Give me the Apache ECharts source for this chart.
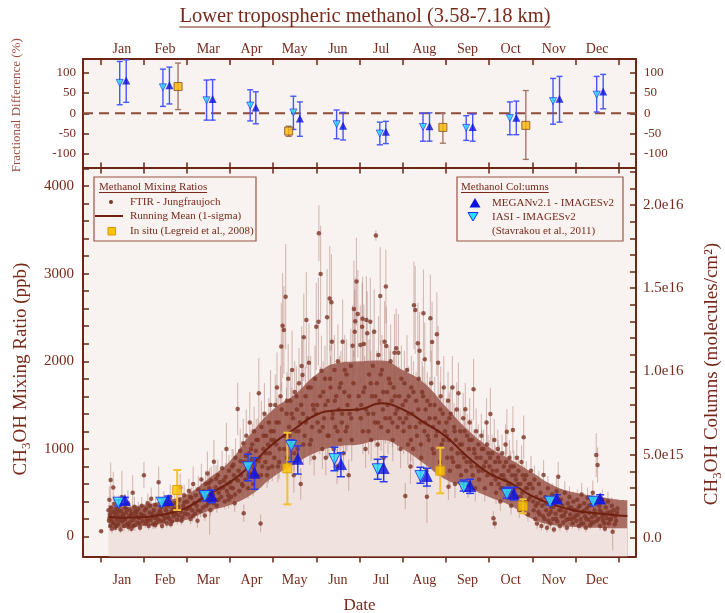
<!DOCTYPE html>
<html><head><meta charset="utf-8">
<script src="https://cdn.jsdelivr.net/npm/echarts@6/dist/echarts.min.js"></script>
<style>html,body{margin:0;padding:0;background:#fff}#c{width:725px;height:613px}</style>
</head><body><div id="c"></div>
<script>
// ---------- axis ticks / labels ----------
const monthNames = ['Jan','Feb','Mar','Apr','May','Jun','Jul','Aug','Sep','Oct','Nov','Dec'];
const monthTicks = [0,1,2,3,4,5,6,7,8,9,10,11,12];
const monthLabelPos = [0.5,1.5,2.5,3.5,4.5,5.5,6.5,7.5,8.5,9.5,10.5,11.5];
const fracTicks = [-100,-50,0,50,100];
const ppbTicks = [0,1000,2000,3000,4000];
const ppbMinorTicks = [0,200,400,600,800,1000,1200,1400,1600,1800,2000,2200,2400,2600,2800,3000,3200,3400,3600,3800,4000,4200];
const colTicks = [0,5e15,1e16,1.5e16,2e16];
const colTickLabels = ['0.0','5.0e15','1.0e16','1.5e16','2.0e16'];
const colMinorTicks = [0,1e15,2e15,3e15,4e15,5e15,6e15,7e15,8e15,9e15,1e16,1.1e16,1.2e16,1.3e16,1.4e16,1.5e16,1.6e16,1.7e16,1.8e16,1.9e16,2e16,2.1e16,2.2e16];

// ---------- FTIR Jungfraujoch: [month, ppb, error] ----------
const ftirJan = [[0.02,60,20],[0.19,300,60],[0.2,180,80],[0.21,420,150],[0.22,250,50],[0.23,120,60],[0.24,645,200],[0.25,330,90],[0.26,200,40],[0.27,90,50],[0.28,280,70],[0.3,560,180],[0.31,150,60],[0.32,370,100],[0.34,230,50],[0.35,100,40],[0.36,310,80],[0.38,190,60],[0.4,260,90],[0.41,140,50],[0.43,350,120],[0.45,220,60],[0.47,80,40],[0.48,290,70],[0.5,450,300],[0.51,170,50],[0.53,240,80],[0.55,120,60],[0.57,330,90],[0.58,200,50],[0.6,270,100],[0.62,150,40],[0.64,380,150],[0.65,110,50],[0.67,230,60],[0.69,300,80],[0.7,170,70],[0.72,90,40],[0.74,260,90],[0.75,500,200],[0.77,190,50],[0.79,340,110],[0.8,130,60],[0.82,240,70],[0.84,280,80],[0.86,160,50],[0.88,310,90],[0.9,210,60],[0.92,100,40],[0.94,260,70],[0.96,350,100],[0.98,180,60],
  [0.21,210,40],[0.29,160,50],[0.33,270,60],[0.37,120,40],[0.42,300,70],[0.46,180,50],[0.52,260,60],[0.56,200,50],[0.61,310,70],[0.66,140,40],[0.71,250,60],[0.76,120,50],[0.81,290,70],[0.87,220,50],[0.91,150,40],[0.97,240,60]];
const ftirFeb = [[1.01,700,150],[1.02,240,60],[1.04,150,50],[1.06,320,90],[1.08,200,60],[1.1,380,110],[1.12,120,40],[1.14,270,80],[1.16,190,50],[1.18,430,130],[1.2,230,70],[1.22,140,50],[1.24,300,90],[1.26,210,60],[1.28,360,100],[1.3,160,50],[1.32,250,80],[1.35,620,180],[1.37,290,70],[1.39,180,60],[1.41,330,90],[1.43,120,40],[1.45,240,70],[1.47,400,120],[1.5,210,60],[1.52,300,80],[1.54,150,50],[1.56,260,70],[1.58,350,100],[1.6,200,60],[1.62,450,150],[1.64,280,80],[1.66,170,50],[1.68,320,90],[1.7,230,70],[1.72,380,100],[1.75,260,60],[1.78,190,50],[1.8,340,90],[1.82,420,130],[1.85,560,160],[1.87,280,80],[1.9,220,60],[1.92,350,100],[1.94,470,120],[1.96,260,70],[1.98,310,90],
  [1.03,300,70],[1.09,170,50],[1.15,350,80],[1.21,260,60],[1.27,130,40],[1.33,200,50],[1.4,270,60],[1.46,180,50],[1.51,350,90],[1.57,220,60],[1.63,140,40],[1.69,260,70],[1.74,310,80],[1.81,240,60],[1.88,180,50],[1.95,390,90]];
const ftirMar = [[2.01,400,100],[2.03,250,60],[2.05,520,140],[2.07,330,80],[2.09,200,60],[2.11,440,120],[2.13,300,70],[2.15,600,200],[2.17,380,90],[2.19,260,60],[2.21,470,100],[2.23,350,80],[2.25,180,80],[2.27,540,150],[2.3,410,90],[2.32,290,70],[2.34,650,180],[2.36,460,110],[2.38,330,80],[2.4,520,120],[2.42,240,60],[2.44,600,150],[2.46,430,90],[2.48,720,250],[2.5,380,80],[2.52,550,120],[2.53,400,380],[2.55,300,70],[2.57,640,160],[2.6,480,100],[2.63,854,250],[2.65,420,90],[2.67,560,130],[2.7,350,80],[2.72,700,180],[2.74,500,110],[2.77,620,140],[2.8,450,100],[2.82,780,200],[2.85,560,120],[2.88,400,90],[2.9,680,160],[2.92,999,300],[2.94,600,130],[2.96,470,100],[2.98,750,180],
  [2.02,320,80],[2.08,450,100],[2.14,230,60],[2.2,380,90],[2.26,300,70],[2.33,500,110],[2.39,420,90],[2.45,350,80],[2.51,610,140],[2.56,470,100],[2.62,380,90],[2.68,660,150],[2.73,420,90],[2.79,550,120],[2.86,640,140],[2.93,520,110],[2.97,420,100]];
const ftirApr = [[3.01,620,150],[3.03,450,100],[3.05,800,200],[3.07,550,120],[3.09,700,160],[3.11,380,100],[3.13,900,220],[3.15,650,140],[3.18,1455,300],[3.2,750,160],[3.22,520,120],[3.24,980,250],[3.26,700,150],[3.28,600,130],[3.31,1064,280],[3.32,265,100],[3.34,850,180],[3.36,650,140],[3.38,1150,300],[3.4,780,160],[3.42,550,120],[3.44,950,200],[3.46,1300,350],[3.48,720,150],[3.5,880,180],[3.52,1050,240],[3.54,600,140],[3.56,1200,280],[3.58,820,170],[3.6,980,200],[3.62,700,150],[3.65,1100,250],[3.67,1635,400],[3.69,900,180],[3.71,150,100],[3.73,1250,300],[3.75,800,160],[3.77,1000,220],[3.8,1400,350],[3.82,850,180],[3.84,1150,250],[3.86,700,150],[3.88,1050,200],[3.9,1300,280],[3.92,950,190],[3.94,1500,400],[3.96,1100,230],[3.98,800,170],
  [3.02,560,130],[3.08,820,180],[3.12,480,110],[3.19,640,140],[3.25,860,190],[3.3,580,130],[3.37,920,200],[3.43,700,150],[3.49,1000,220],[3.55,780,170],[3.61,1100,240],[3.66,860,190],[3.72,700,150],[3.78,1150,250],[3.83,950,210],[3.89,780,170],[3.95,1200,260]];
const ftirMay = [[4.01,1200,250],[4.03,900,200],[4.05,1500,350],[4.07,1050,220],[4.09,1700,400],[4.11,800,180],[4.13,1300,280],[4.15,1000,220],[4.17,1600,350],[4.19,2167,500],[4.22,2406,600],[4.25,2357,500],[4.27,1150,250],[4.29,2737,600],[4.31,1400,300],[4.33,900,200],[4.35,1800,400],[4.37,1250,260],[4.4,1550,330],[4.42,1050,230],[4.44,1900,450],[4.46,1350,280],[4.48,700,200],[4.5,1650,350],[4.52,1200,260],[4.55,1450,300],[4.57,1000,220],[4.6,1750,400],[4.62,1300,270],[4.64,600,180],[4.66,1946,450],[4.68,1843,400],[4.69,1400,300],[4.71,2274,500],[4.73,1150,250],[4.75,1600,340],[4.77,2471,550],[4.8,1350,280],[4.83,1984,450],[4.85,1050,230],[4.87,1700,360],[4.9,1250,260],[4.92,1500,320],[4.95,900,200],[4.97,1800,380],[4.99,1400,300],
  [4.02,1100,240],[4.08,1300,280],[4.14,850,190],[4.2,1450,310],[4.26,1000,220],[4.32,1550,330],[4.38,1150,250],[4.43,1400,300],[4.49,950,210],[4.54,1600,340],[4.59,1200,260],[4.65,1500,320],[4.7,1050,230],[4.76,1300,280],[4.81,1700,360],[4.88,1100,240],[4.94,1450,310]];
const ftirJun = [[5.0,2395,500],[5.02,1500,320],[5.05,2452,500],[5.06,3461,320],[5.08,1200,260],[5.1,2997,550],[5.12,1893,400],[5.14,1000,230],[5.16,1650,350],[5.18,1350,280],[5.2,1800,380],[5.22,900,200],[5.25,2502,550],[5.27,1550,330],[5.29,1150,250],[5.31,2715,600],[5.33,1700,360],[5.35,2673,550],[5.36,2224,450],[5.38,1400,300],[5.4,1000,220],[5.42,1900,400],[5.44,1250,270],[5.46,1600,340],[5.48,800,200],[5.5,2000,420],[5.52,1450,300],[5.55,1100,240],[5.57,1750,370],[5.59,1300,280],[5.61,2224,480],[5.63,950,210],[5.65,1650,350],[5.68,1200,260],[5.7,1850,400],[5.72,1500,320],[5.75,700,180],[5.77,1400,300],[5.8,1950,420],[5.82,1100,240],[5.84,2178,460],[5.87,2597,550],[5.89,2338,480],[5.9,2456,500],[5.93,2909,500],[5.96,2540,500],[5.98,1600,340],
  [5.03,1300,280],[5.09,1600,340],[5.15,1250,270],[5.21,1500,320],[5.26,1150,250],[5.32,1800,380],[5.37,1350,290],[5.43,1550,330],[5.49,1200,260],[5.54,1700,360],[5.6,1400,300],[5.66,1900,400],[5.71,1250,270],[5.76,1600,340],[5.81,1350,290],[5.86,1750,370],[5.94,1450,310]];
const ftirJul = [[6.02,2186,450],[6.04,1500,320],[6.06,2395,500],[6.07,2486,480],[6.08,1200,260],[6.1,2198,450],[6.12,1700,360],[6.14,1000,220],[6.16,2471,500],[6.18,2320,480],[6.2,1400,300],[6.22,1850,400],[6.25,2452,500],[6.27,1100,240],[6.29,1600,340],[6.31,1950,420],[6.34,2338,480],[6.36,1300,280],[6.38,3434,60],[6.4,1750,370],[6.42,1050,230],[6.44,2072,440],[6.46,1550,330],[6.48,2745,560],[6.5,1250,270],[6.52,1900,400],[6.54,1450,310],[6.56,900,200],[6.58,2224,460],[6.61,2852,420],[6.62,2175,450],[6.64,1650,350],[6.66,1200,260],[6.68,1800,380],[6.7,1350,290],[6.72,2000,420],[6.75,1550,330],[6.77,1100,240],[6.79,1700,360],[6.81,2098,440],[6.83,1400,300],[6.85,2148,450],[6.88,1250,270],[6.9,2098,440],[6.92,1600,340],[6.95,1000,220],[6.97,1800,380],
  [6.03,1350,290],[6.09,1650,350],[6.15,1450,310],[6.21,1200,260],[6.26,1750,370],[6.32,1400,300],[6.37,1600,340],[6.43,1300,280],[6.49,1850,390],[6.55,1650,350],[6.6,1350,290],[6.65,1500,320],[6.71,1750,370],[6.76,1300,280],[6.82,1600,340],[6.87,1450,310],[6.93,1350,290]];
const ftirAug = [[7.0,1500,320],[7.02,1200,260],[7.04,1750,370],[7.06,462,150],[7.08,1350,290],[7.1,1900,400],[7.12,1050,230],[7.14,1600,340],[7.16,1250,270],[7.18,800,200],[7.2,1700,360],[7.22,1400,300],[7.24,1000,220],[7.26,2639,500],[7.29,2586,500],[7.31,1550,330],[7.33,1150,250],[7.35,2205,460],[7.37,1800,380],[7.39,2121,440],[7.41,1300,280],[7.43,900,200],[7.45,1650,350],[7.48,2548,500],[7.5,1200,260],[7.51,2023,420],[7.53,1450,310],[7.55,750,200],[7.56,454,300],[7.57,1550,330],[7.6,1100,240],[7.62,1350,290],[7.64,2491,500],[7.66,1750,370],[7.68,2220,460],[7.7,1250,270],[7.72,950,210],[7.74,1500,320],[7.77,1150,250],[7.79,2308,480],[7.82,1984,420],[7.84,1300,280],[7.86,850,200],[7.88,1600,340],[7.9,1050,230],[7.93,1400,300],[7.95,1700,360],[7.98,1200,260],
  [7.01,1300,280],[7.07,1550,330],[7.13,1400,300],[7.19,1100,240],[7.25,1650,350],[7.3,1250,270],[7.36,1450,310],[7.42,1050,230],[7.47,1600,340],[7.52,1300,280],[7.58,1150,250],[7.63,1500,320],[7.69,1000,220],[7.75,1350,290],[7.8,1200,260],[7.87,1450,310],[7.94,1100,240]];
const ftirSep = [[8.01,1300,280],[8.03,900,200],[8.05,1550,330],[8.06,568,150],[8.07,1100,240],[8.09,750,180],[8.11,1400,300],[8.13,1000,220],[8.15,1700,360],[8.17,850,190],[8.19,1250,270],[8.21,600,160],[8.23,1100,240],[8.25,1450,310],[8.27,950,210],[8.29,1635,350],[8.31,800,190],[8.33,1200,260],[8.35,700,170],[8.37,1050,230],[8.4,1350,290],[8.42,900,200],[8.45,1452,300],[8.47,750,180],[8.49,1150,250],[8.51,600,160],[8.53,1000,220],[8.55,1300,280],[8.57,850,190],[8.6,1100,240],[8.62,700,170],[8.64,1680,350],[8.66,950,210],[8.68,550,150],[8.7,1200,260],[8.72,800,180],[8.75,1050,230],[8.77,650,160],[8.8,900,200],[8.82,1150,250],[8.85,750,180],[8.87,1000,220],[8.9,550,150],[8.92,850,190],[8.94,1300,280],[8.96,700,170],[8.98,950,210],
  [8.02,1150,250],[8.08,1350,290],[8.14,900,200],[8.2,1200,260],[8.26,800,190],[8.32,1050,230],[8.38,950,210],[8.43,1200,260],[8.48,850,190],[8.54,1100,240],[8.59,800,180],[8.65,1000,220],[8.71,900,200],[8.76,750,180],[8.83,1000,220],[8.88,800,180],[8.95,1050,230]];
const ftirOct = [[9.01,800,180],[9.03,1398,300],[9.05,600,150],[9.07,950,210],[9.09,700,170],[9.1,208,80],[9.12,1100,240],[9.13,150,60],[9.14,850,190],[9.16,500,130],[9.18,750,180],[9.2,1000,220],[9.22,600,150],[9.24,850,190],[9.26,400,110],[9.28,700,170],[9.3,950,210],[9.32,550,140],[9.34,800,180],[9.36,650,160],[9.38,1050,230],[9.41,1196,260],[9.43,500,130],[9.45,750,170],[9.47,900,200],[9.49,600,150],[9.51,350,100],[9.53,700,160],[9.55,1216,270],[9.57,800,180],[9.6,550,140],[9.62,650,150],[9.64,900,200],[9.66,450,120],[9.68,750,170],[9.7,300,90],[9.72,600,150],[9.75,850,190],[9.77,500,130],[9.8,1132,250],[9.82,650,150],[9.84,400,110],[9.86,700,160],[9.88,550,140],[9.9,250,80],[9.92,600,150],[9.95,450,120],[9.97,750,170],
  [9.02,900,200],[9.08,750,170],[9.15,650,150],[9.21,900,200],[9.27,550,140],[9.33,700,160],[9.39,850,190],[9.44,600,150],[9.5,800,180],[9.56,500,130],[9.61,700,160],[9.67,600,150],[9.73,450,120],[9.78,700,160],[9.85,550,140],[9.91,420,110],[9.96,600,150]];
const ftirNov = [[10.01,550,140],[10.03,300,90],[10.05,650,160],[10.07,200,70],[10.09,450,120],[10.11,150,60],[10.13,380,110],[10.15,600,150],[10.17,250,80],[10.19,500,130],[10.21,120,50],[10.23,350,100],[10.26,702,170],[10.28,200,70],[10.3,450,120],[10.32,300,90],[10.34,100,50],[10.36,550,140],[10.38,250,80],[10.4,400,110],[10.42,150,60],[10.44,330,100],[10.46,480,130],[10.48,200,70],[10.5,80,40],[10.52,380,110],[10.54,260,80],[10.56,520,140],[10.58,170,60],[10.6,683,170],[10.62,300,90],[10.64,120,50],[10.66,420,120],[10.68,230,80],[10.7,350,100],[10.72,160,60],[10.75,500,130],[10.77,280,90],[10.8,100,50],[10.82,380,110],[10.84,200,70],[10.86,450,120],[10.88,250,80],[10.9,330,100],[10.93,150,60],[10.95,400,110],[10.97,220,70],
  [10.02,400,110],[10.08,350,100],[10.14,280,90],[10.2,420,110],[10.25,230,80],[10.31,380,110],[10.37,180,60],[10.43,280,90],[10.49,340,100],[10.55,200,70],[10.61,400,110],[10.67,300,90],[10.73,240,80],[10.79,190,60],[10.85,330,100],[10.91,200,70],[10.96,300,90]];
const ftirDec = [[11.0,300,90],[11.02,180,60],[11.04,420,120],[11.06,250,80],[11.08,120,50],[11.1,350,100],[11.12,200,70],[11.14,480,130],[11.16,280,90],[11.18,150,60],[11.2,380,110],[11.22,230,80],[11.24,100,50],[11.26,320,100],[11.28,440,120],[11.3,190,70],[11.32,270,80],[11.34,130,50],[11.36,360,100],[11.38,220,80],[11.4,500,140],[11.42,160,60],[11.44,300,90],[11.46,240,80],[11.48,930,250],[11.51,816,200],[11.53,200,70],[11.55,350,100],[11.57,120,50],[11.6,280,90],[11.62,420,120],[11.64,180,60],[11.66,250,80],[11.68,90,40],[11.7,330,100],[11.72,210,70],[11.75,400,110],[11.77,150,60],[11.8,280,90],[11.82,200,70],[11.84,350,100],[11.86,55,215],[11.88,300,90],[11.92,230,80],[11.94,180,60],[11.96,270,80],
  [11.01,240,80],[11.07,330,100],[11.13,150,60],[11.19,290,90],[11.25,200,70],[11.31,350,100],[11.37,160,60],[11.43,260,80],[11.49,180,60],[11.56,300,90],[11.61,220,70],[11.67,150,60],[11.73,270,80],[11.79,190,60],[11.85,250,80],[11.91,140,50],[11.97,320,100]];

// ---------- running mean and 1-sigma band ----------
const runMonth = [0.2,0.5,1.0,1.5,2.0,2.5,3.0,3.5,4.0,4.5,5.0,5.5,6.0,6.5,7.0,7.5,8.0,8.5,9.0,9.5,10.0,10.5,11.0,11.5,12.0,12.2];
const runMean  = [225,215,220,255,330,480,620,820,1060,1230,1390,1440,1450,1520,1450,1300,1140,910,720,610,460,360,295,265,240,235];
const runLow   = [110,100,120,150,190,290,360,480,680,830,960,1030,1050,1100,1000,830,650,560,450,350,200,130,110,100,95,95];
const runHigh  = [350,340,360,410,480,660,860,1180,1450,1620,1850,1980,2000,2010,1900,1750,1480,1220,1020,880,730,580,500,460,420,415];

// ---------- in situ (Legreid et al., 2008), ppb ----------
const insituMonth = [1.78,4.33,7.87,9.78];
const insituPpb   = [531,778,751,348];
const insituLow   = [302,367,493,265];
const insituHigh  = [759,1185,1013,425];

// ---------- columns (molecules/cm2) ----------
const iasiMonth = [0.42,1.42,2.42,3.42,4.42,5.42,6.42,7.41,8.41,9.41,10.41,11.41];
const iasiCol   = [2.12e15,2.12e15,2.52e15,4.25e15,5.53e15,4.74e15,4.13e15,3.72e15,3.05e15,2.64e15,2.18e15,2.18e15];
const iasiLow   = [1.92e15,1.92e15,2.24e15,3.44e15,4.58e15,4.04e15,3.53e15,3.29e15,2.82e15,2.40e15,1.98e15,1.98e15];
const iasiHigh  = [2.28e15,2.38e15,2.78e15,5.03e15,5.89e15,5.45e15,4.73e15,4.25e15,3.48e15,3.05e15,2.40e15,2.40e15];
const meganMonth = [0.57,1.57,2.58,3.57,4.57,5.57,6.56,7.56,8.56,9.57,10.57,11.57];
const meganCol   = [2.28e15,2.28e15,2.54e15,3.92e15,4.76e15,4.44e15,4.20e15,3.72e15,3.12e15,2.68e15,2.38e15,2.38e15];
const meganLow   = [2.04e15,2.04e15,2.12e15,2.93e15,3.84e15,3.68e15,3.38e15,3.12e15,2.68e15,2.28e15,2.10e15,2.10e15];
const meganHigh  = [2.44e15,2.52e15,2.88e15,4.82e15,5.53e15,5.12e15,4.88e15,4.19e15,3.53e15,3.05e15,2.60e15,2.60e15];

// ---------- fractional difference (%) ----------
const fdIasiMonth = [0.45,1.45,2.46,3.47,4.47,5.47,6.47,7.47,8.47,9.48,10.48,11.49];
const fdIasi      = [75,64,32,19,2,-27,-50,-34,-36,-12,30,46];
const fdIasiLow   = [21,17,-17,-19,-40,-63,-78,-69,-67,-53,-27,3];
const fdIasiHigh  = [128,109,82,58,42,8,-22,0,-6,28,86,91];
const fdMeganMonth = [0.6,1.6,2.6,3.6,4.62,5.62,6.61,7.62,8.62,9.63,10.63,11.64];
const fdMegan      = [81,69,35,14,-13,-31,-46,-32,-34,-11,36,54];
const fdMeganLow   = [27,23,-17,-26,-57,-66,-75,-69,-69,-53,-22,11];
const fdMeganHigh  = [132,114,83,53,28,2,-20,1,-2,30,91,96];
const fdInsituMonth = [1.8,4.36,7.93,9.85];
const fdInsitu      = [66,-44,-35,-30];
const fdInsituLow   = [9,-57,-74,-114];
const fdInsituHigh  = [124,-32,0,56];

// ---------- styling ----------
const FF = '"Liberation Serif","DejaVu Serif",serif';
const TXT = '#772a1b';
const AX = '#6b2616';
const BG = '#f8f2f0';

const ftirAll = [].concat(ftirJan,ftirFeb,ftirMar,ftirApr,ftirMay,ftirJun,ftirJul,ftirAug,ftirSep,ftirOct,ftirNov,ftirDec);
const zip4 = (a,b,c,d) => a.map((v,i)=>[v,b[i],c[i],d[i]]);

function errRender(color, cap, width){
  return function(params, api){
    const x = api.value(0), lo = api.value(2), hi = api.value(3);
    const a = api.coord([x, lo]), b = api.coord([x, hi]);
    const st = {stroke: color, lineWidth: width};
    return {type:'group', children:[
      {type:'line', shape:{x1:a[0],y1:a[1],x2:b[0],y2:b[1]}, style:st},
      {type:'line', shape:{x1:a[0]-cap,y1:a[1],x2:a[0]+cap,y2:a[1]}, style:st},
      {type:'line', shape:{x1:b[0]-cap,y1:b[1],x2:b[0]+cap,y2:b[1]}, style:st}
    ]};
  };
}

const ctx = document.createElement('canvas').getContext('2d');
function tw(t, f){ ctx.font = f; return ctx.measureText(t).width; }

const axLine = {show:true, onZero:false, lineStyle:{color:AX, width:2}};
const lbl = (size, extra) => Object.assign({color:TXT, fontFamily:FF, fontSize:size}, extra||{});

const xCommon = {type:'value', min:-0.4, max:12.4, splitLine:{show:false}, axisLine:axLine};
const xAxes = [
  Object.assign({}, xCommon, {gridIndex:0, position:'top',
    axisTick:{show:true, inside:true, length:6, customValues:monthTicks, lineStyle:{color:AX,width:1.5}},
    axisLabel:lbl(14,{margin:3, customValues:monthLabelPos, formatter:v=>monthNames[Math.floor(v)]})}),
  Object.assign({}, xCommon, {gridIndex:0, position:'bottom',
    axisTick:{show:true, inside:true, length:5, customValues:monthTicks, lineStyle:{color:AX,width:1.5}},
    axisLabel:{show:false}}),
  Object.assign({}, xCommon, {gridIndex:1, position:'bottom',
    name:'Date', nameLocation:'middle', nameGap:41, nameTextStyle:{color:TXT, fontFamily:FF, fontSize:17},
    axisTick:{show:true, inside:false, length:6, customValues:monthTicks, lineStyle:{color:AX,width:1.5}},
    axisLabel:lbl(14,{margin:17, customValues:monthLabelPos, formatter:v=>monthNames[Math.floor(v)]})}),
  Object.assign({}, xCommon, {gridIndex:1, position:'top',
    axisTick:{show:true, inside:true, length:6, customValues:monthTicks, lineStyle:{color:AX,width:1.5}},
    axisLabel:{show:false}})
];

const rich = (big, small, color) => ({
  n:{fontSize:big, fontFamily:FF, color:color, lineHeight:24, verticalAlign:'middle'},
  s:{fontSize:small, fontFamily:FF, color:color, lineHeight:9, verticalAlign:'bottom'}
});
const plain = v => String(v);

const yAxes = [
  {gridIndex:0, type:'value', position:'left', min:-134, max:134, splitLine:{show:false}, axisLine:axLine,
    name:'Fractional Difference (%)', nameLocation:'middle', nameGap:60,
    nameTextStyle:{color:'#9b4d3d', fontFamily:FF, fontSize:13, padding:[0,0,0,16]},
    axisTick:{show:true, inside:true, length:6, customValues:fracTicks, lineStyle:{color:AX,width:1.5}},
    axisLabel:lbl(13,{margin:7, customValues:fracTicks, formatter:plain})},
  {gridIndex:0, type:'value', position:'right', min:-134, max:134, splitLine:{show:false}, axisLine:axLine,
    axisTick:{show:true, inside:true, length:6, customValues:fracTicks, lineStyle:{color:AX,width:1.5}},
    axisLabel:lbl(13,{margin:8, customValues:fracTicks, formatter:plain})},
  {gridIndex:1, type:'value', position:'left', min:-228, max:4211, splitLine:{show:false}, axisLine:axLine,
    name:'{n|CH}{s|3}{n|OH Mixing Ratio (ppb)}', nameLocation:'middle', nameGap:45,
    nameTextStyle:{rich:rich(19,13,TXT), padding:[0,14,0,0]},
    axisTick:{show:true, inside:true, length:6, customValues:ppbMinorTicks, lineStyle:{color:AX,width:1.5}},
    axisLabel:lbl(15,{margin:9, customValues:ppbTicks, formatter:plain})},
  {gridIndex:1, type:'value', position:'right', min:-1.11e15, max:2.225e16, splitLine:{show:false}, axisLine:axLine,
    name:'{n|CH}{s|3}{n|OH Columns (molecules/cm²)}', nameLocation:'middle', nameGap:64,
    nameTextStyle:{rich:rich(19,13,TXT), padding:[0,24,0,0]},
    axisTick:{show:true, inside:true, length:6, customValues:colMinorTicks, lineStyle:{color:AX,width:1.5}},
    axisLabel:lbl(15,{margin:7, customValues:colTicks, formatter:v=>{const i=colTicks.indexOf(v); return i>=0?colTickLabels[i]:'';}})}
];

const BLUE_ERR = '#2a3cf0';
const series = [
  // 1-sigma band: dark fill below the upper bound ...
  {type:'line', xAxisIndex:2, yAxisIndex:2, data:runMonth.map((m,i)=>[m,runHigh[i]]), smooth:0.5, symbol:'none',
    lineStyle:{width:0}, areaStyle:{color:'#a86d63', opacity:1, origin:'start'}, silent:true, z:1},
  // ... covered by the light fill below the lower bound
  {type:'line', xAxisIndex:2, yAxisIndex:2, data:runMonth.map((m,i)=>[m,runLow[i]]), smooth:0.5, symbol:'none',
    lineStyle:{width:0}, areaStyle:{color:'#efe2df', opacity:1, origin:'start'}, silent:true, z:2},
  // FTIR error bars
  {type:'custom', xAxisIndex:2, yAxisIndex:2, data:ftirAll, z:3, silent:true,
    renderItem:function(params, api){
      const x=api.value(0), y=api.value(1), e=api.value(2);
      const a=api.coord([x,y-e]), b=api.coord([x,y+e]);
      return {type:'line', shape:{x1:a[0],y1:a[1],x2:b[0],y2:b[1]}, style:{stroke:'rgba(160,95,85,0.38)', lineWidth:1.1}};
    }},
  // FTIR dots
  {type:'scatter', xAxisIndex:2, yAxisIndex:2, data:ftirAll.map(d=>[d[0],d[1]]), symbol:'circle', symbolSize:4.5,
    itemStyle:{color:'#7d3526'}, z:4, silent:true},
  // running mean
  {type:'line', xAxisIndex:2, yAxisIndex:2, data:runMonth.map((m,i)=>[m,runMean[i]]), smooth:0.5, symbol:'none',
    lineStyle:{color:'#6e1f10', width:2}, z:5, silent:true},
  // in situ
  {type:'custom', xAxisIndex:2, yAxisIndex:2, data:zip4(insituMonth,insituPpb,insituLow,insituHigh), z:6,
    renderItem:errRender('#f2c232',4,2)},
  {type:'scatter', xAxisIndex:2, yAxisIndex:2, data:insituMonth.map((m,i)=>[m,insituPpb[i]]), symbol:'rect', symbolSize:9,
    itemStyle:{color:'#f7c400', borderColor:'#d99a00', borderWidth:1}, z:7},
  // IASI columns
  {type:'custom', xAxisIndex:2, yAxisIndex:3, data:zip4(iasiMonth,iasiCol,iasiLow,iasiHigh), z:6,
    renderItem:errRender(BLUE_ERR,4,1.5)},
  {type:'scatter', xAxisIndex:2, yAxisIndex:3, data:iasiMonth.map((m,i)=>[m,iasiCol[i]]), symbol:'triangle', symbolRotate:180, symbolSize:11,
    itemStyle:{color:'#28e0ff', borderColor:'#1d2cf0', borderWidth:1}, z:7},
  // MEGAN columns
  {type:'custom', xAxisIndex:2, yAxisIndex:3, data:zip4(meganMonth,meganCol,meganLow,meganHigh), z:6,
    renderItem:errRender(BLUE_ERR,4,1.5)},
  {type:'scatter', xAxisIndex:2, yAxisIndex:3, data:meganMonth.map((m,i)=>[m,meganCol[i]]), symbol:'triangle', symbolSize:12,
    itemStyle:{color:'#0b12e0'}, z:7},

  // ---- top panel ----
  {type:'line', xAxisIndex:1, yAxisIndex:0, data:[[-0.4,0],[12.4,0]], symbol:'none',
    lineStyle:{color:'#8e4a3a', width:1.8, type:[10,6]}, z:2, silent:true},
  {type:'custom', xAxisIndex:1, yAxisIndex:0, data:zip4(fdInsituMonth,fdInsitu,fdInsituLow,fdInsituHigh), z:3,
    renderItem:errRender('#a07060',3,1.3)},
  {type:'scatter', xAxisIndex:1, yAxisIndex:0, data:fdInsituMonth.map((m,i)=>[m,fdInsitu[i]]), symbol:'rect', symbolSize:8,
    itemStyle:{color:'#f7b800', borderColor:'#8a4a20', borderWidth:1}, z:4},
  {type:'custom', xAxisIndex:1, yAxisIndex:0, data:zip4(fdIasiMonth,fdIasi,fdIasiLow,fdIasiHigh), z:3,
    renderItem:errRender('#4656ff',3,1.4)},
  {type:'scatter', xAxisIndex:1, yAxisIndex:0, data:fdIasiMonth.map((m,i)=>[m,fdIasi[i]]), symbol:'triangle', symbolRotate:180, symbolSize:7,
    itemStyle:{color:'#28e0ff', borderColor:'#1d2cf0', borderWidth:0.8}, z:4},
  {type:'custom', xAxisIndex:1, yAxisIndex:0, data:zip4(fdMeganMonth,fdMegan,fdMeganLow,fdMeganHigh), z:3,
    renderItem:errRender('#4656ff',3,1.4)},
  {type:'scatter', xAxisIndex:1, yAxisIndex:0, data:fdMeganMonth.map((m,i)=>[m,fdMegan[i]]), symbol:'triangle', symbolSize:8,
    itemStyle:{color:'#0b12e0'}, z:4}
];

// ---------- title and legends (graphic) ----------
const titleText = 'Lower tropospheric methanol (3.58-7.18 km)';
const titleFont = '20.5px ' + FF;
const tW = tw(titleText, titleFont);
const lgFont = '11px ' + FF;
const lg1Title = 'Methanol Mixing Ratios', lg2Title = 'Methanol Col:umns';
const g = [
  {type:'text', x:365, y:17, z:100, style:{text:titleText, font:titleFont, fill:TXT, align:'center', verticalAlign:'middle'}},
  {type:'line', z:100, shape:{x1:365-tW/2, y1:27, x2:365+tW/2, y2:27}, style:{stroke:TXT, lineWidth:1.2}},
  // left legend
  {type:'rect', z:100, shape:{x:94, y:177, width:162, height:64}, style:{fill:BG, stroke:'#9a5545', lineWidth:1.2}},
  {type:'text', z:101, x:99, y:187, style:{text:lg1Title, font:lgFont, fill:TXT, align:'left', verticalAlign:'middle'}},
  {type:'line', z:101, shape:{x1:99, y1:192.5, x2:99+tw(lg1Title,lgFont), y2:192.5}, style:{stroke:TXT, lineWidth:1}},
  {type:'circle', z:101, shape:{cx:111, cy:202, r:2}, style:{fill:'#7d3526'}},
  {type:'text', z:101, x:130, y:202, style:{text:'FTIR - Jungfraujoch', font:lgFont, fill:TXT, align:'left', verticalAlign:'middle'}},
  {type:'line', z:101, shape:{x1:95, y1:216, x2:123, y2:216}, style:{stroke:'#6e1f10', lineWidth:2}},
  {type:'text', z:101, x:130, y:216, style:{text:'Running Mean (1-sigma)', font:lgFont, fill:TXT, align:'left', verticalAlign:'middle'}},
  {type:'rect', z:101, shape:{x:108, y:227.5, width:7.5, height:7.5}, style:{fill:'#f7c400', stroke:'#d99a00', lineWidth:1}},
  {type:'text', z:101, x:130, y:231, style:{text:'In situ (Legreid et al., 2008)', font:lgFont, fill:TXT, align:'left', verticalAlign:'middle'}},
  // right legend
  {type:'rect', z:100, shape:{x:457, y:177, width:166, height:64}, style:{fill:BG, stroke:'#9a5545', lineWidth:1.2}},
  {type:'text', z:101, x:461, y:187, style:{text:lg2Title, font:lgFont, fill:TXT, align:'left', verticalAlign:'middle'}},
  {type:'line', z:101, shape:{x1:461, y1:192.5, x2:461+tw(lg2Title,lgFont), y2:192.5}, style:{stroke:TXT, lineWidth:1}},
  {type:'polygon', z:101, shape:{points:[[475,198],[480.5,207.5],[469.5,207.5]]}, style:{fill:'#0b12e0'}},
  {type:'text', z:101, x:492, y:203, style:{text:'MEGANv2.1 - IMAGESv2', font:lgFont, fill:TXT, align:'left', verticalAlign:'middle'}},
  {type:'polygon', z:101, shape:{points:[[468,212.5],[478,212.5],[473,221]]}, style:{fill:'#28e0ff', stroke:'#1d2cf0', lineWidth:1}},
  {type:'text', z:101, x:492, y:217, style:{text:'IASI - IMAGESv2', font:lgFont, fill:TXT, align:'left', verticalAlign:'middle'}},
  {type:'text', z:101, x:492, y:231, style:{text:'(Stavrakou et al., 2011)', font:lgFont, fill:TXT, align:'left', verticalAlign:'middle'}}
];

const chart = echarts.init(document.getElementById('c'), null, {renderer:'canvas'});
chart.setOption({
  animation:false,
  backgroundColor:'#ffffff',
  grid:[
    {left:83, right:89, top:59, bottom:445.5, show:true, backgroundColor:BG, borderWidth:0, outerBoundsMode:'none', containLabel:false},
    {left:83, right:89, top:167.5, bottom:56.5, show:true, backgroundColor:BG, borderWidth:0, outerBoundsMode:'none', containLabel:false}
  ],
  xAxis:xAxes,
  yAxis:yAxes,
  series:series,
  graphic:g
});
</script>
</body></html>
